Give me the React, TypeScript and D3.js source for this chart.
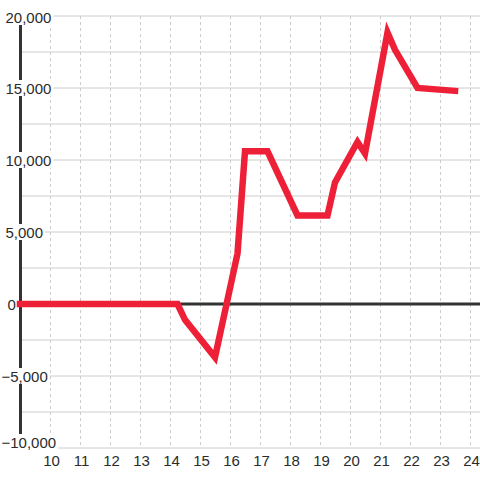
import React, { useEffect, useRef } from "react";
import * as d3 from "d3";

const xValues = [9, 14.25, 14.5, 15.5, 16.25, 16.5, 17.25, 18.25, 19.25, 19.5, 20.25, 20.5, 21.25, 21.5, 22.25, 23.5];
const yValues = [0, 0, -1100, -3700, 3500, 10600, 10600, 6150, 6150, 8450, 11250, 10450, 18850, 17650, 15000, 14800];
const xTicks = [10, 11, 12, 13, 14, 15, 16, 17, 18, 19, 20, 21, 22, 23, 24];
const yGrid = [-10000, -7500, -5000, -2500, 0, 2500, 5000, 7500, 10000, 12500, 15000, 17500, 20000];
const yLabels = [-10000, -5000, 0, 5000, 10000, 15000, 20000];

export default function App() {
  const ref = useRef<SVGSVGElement>(null);
  useEffect(() => {
    const svg = d3.select(ref.current);
    svg.selectAll("*").remove();
    const x = d3.scaleLinear().domain([10, 24]).range([50, 470]);
    const y = d3.scaleLinear().domain([-10000, 20000]).range([448, 16]);
    const font = "'Liberation Sans', Arial, sans-serif";

    // horizontal grid
    svg.append("g").selectAll("line").data(yGrid).join("line")
      .attr("x1", x(9)).attr("x2", 480)
      .attr("y1", (d) => y(d)).attr("y2", (d) => y(d))
      .attr("stroke", "#cccccc").attr("stroke-width", 1);
    // vertical dashed grid
    svg.append("g").selectAll("line").data(xTicks).join("line")
      .attr("x1", (d) => x(d) + 0.5).attr("x2", (d) => x(d) + 0.5)
      .attr("y1", y(20000)).attr("y2", y(-10000))
      .attr("stroke", "#cccccc").attr("stroke-width", 1)
      .attr("stroke-dasharray", "3,3");
    // y axis line
    svg.append("line")
      .attr("x1", x(9) + 0.5).attr("x2", x(9) + 0.5)
      .attr("y1", y(20000)).attr("y2", y(-10000))
      .attr("stroke", "#333333").attr("stroke-width", 3);
    // zero line
    svg.append("line")
      .attr("x1", x(9)).attr("x2", 480)
      .attr("y1", y(0)).attr("y2", y(0))
      .attr("stroke", "#333333").attr("stroke-width", 3);

    // y labels with white backgrounds (edge labels nudged inward)
    const fmt = d3.format(",");
    const lg = svg.append("g");
    const [yMin, yMax] = y.domain();
    yLabels.forEach((v) => {
      const tx = v < 0 ? 1.5 : v === 0 ? 7.5 : 5.5;
      const cy = y(v) + (v === yMin ? -6 : v === yMax ? 1 : 0);
      const g = lg.append("g");
      const rect = g.append("rect").attr("fill", "white");
      const t = g.append("text")
        .attr("x", tx).attr("y", cy + 5.5)
        .attr("font-family", font).attr("font-size", 15)
        .attr("fill", "#2b2b2b")
        .text(fmt(v));
      const bb = (t.node() as SVGTextElement).getBBox();
      rect.attr("x", bb.x - 1).attr("y", cy - 8).attr("width", bb.width + 3).attr("height", 16);
    });

    // x labels
    svg.append("g").selectAll("text").data(xTicks).join("text")
      .attr("x", (d) => x(d) + 1.5).attr("y", 466)
      .attr("text-anchor", "middle")
      .attr("font-family", font).attr("font-size", 15)
      .attr("fill", "#2b2b2b")
      .text((d) => String(d));

    // series
    const pts = xValues.map((v, i) => [v, yValues[i]] as [number, number]);
    const line = d3.line<[number, number]>().x((d) => x(d[0])).y((d) => y(d[1]));
    svg.append("path")
      .attr("d", line(pts))
      .attr("fill", "none")
      .attr("stroke", "#ee2038")
      .attr("stroke-width", 6.5)
      .attr("stroke-linecap", "square")
      .attr("stroke-linejoin", "miter");
  }, []);
  return (
    <svg ref={ref} width={480} height={480}
      style={{ position: "absolute", left: 0, top: 0, background: "white" }} />
  );
}
